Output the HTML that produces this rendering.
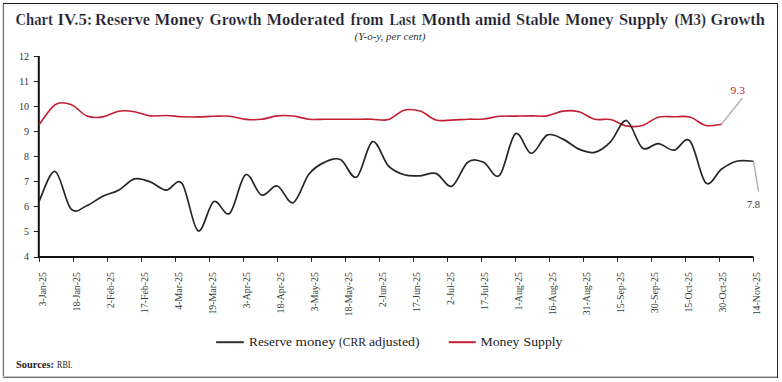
<!DOCTYPE html>
<html><head><meta charset="utf-8"><style>
html,body{margin:0;padding:0;background:#fff;}
body{width:782px;height:382px;overflow:hidden;font-family:"Liberation Serif",serif;}
svg{display:block;}
</style></head><body>
<svg width="782" height="382" viewBox="0 0 782 382">
<path d="M3,3.5H778" stroke="#1c1c1c" stroke-width="1"/>
<path d="M777.5,3V378" stroke="#262626" stroke-width="1"/>
<path d="M2.5,4V377" stroke="#dedede" stroke-width="1"/>
<path d="M3.5,4V378" stroke="#6e6e6e" stroke-width="1"/>
<path d="M3,376.5H777" stroke="#c4c4c4" stroke-width="1"/>
<path d="M3,377.5H777" stroke="#6e6e6e" stroke-width="1"/>
<text x="15.50" y="25.00" font-family="Liberation Serif" font-weight="bold" font-size="16.3" fill="#1c1c2c" stroke="#fff" stroke-width="0.2" textLength="37.50" lengthAdjust="spacingAndGlyphs">Chart</text>
<text x="57.50" y="25.00" font-family="Liberation Serif" font-weight="bold" font-size="16.3" fill="#1c1c2c" stroke="#fff" stroke-width="0.2" textLength="35.00" lengthAdjust="spacingAndGlyphs">IV.5:</text>
<text x="95.00" y="25.00" font-family="Liberation Serif" font-weight="bold" font-size="16.3" fill="#1c1c2c" stroke="#fff" stroke-width="0.2" textLength="55.00" lengthAdjust="spacingAndGlyphs">Reserve</text>
<text x="154.50" y="25.00" font-family="Liberation Serif" font-weight="bold" font-size="16.3" fill="#1c1c2c" stroke="#fff" stroke-width="0.2" textLength="49.50" lengthAdjust="spacingAndGlyphs">Money</text>
<text x="209.50" y="25.00" font-family="Liberation Serif" font-weight="bold" font-size="16.3" fill="#1c1c2c" stroke="#fff" stroke-width="0.2" textLength="52.00" lengthAdjust="spacingAndGlyphs">Growth</text>
<text x="266.50" y="25.00" font-family="Liberation Serif" font-weight="bold" font-size="16.3" fill="#1c1c2c" stroke="#fff" stroke-width="0.2" textLength="78.00" lengthAdjust="spacingAndGlyphs">Moderated</text>
<text x="350.50" y="25.00" font-family="Liberation Serif" font-weight="bold" font-size="16.3" fill="#1c1c2c" stroke="#fff" stroke-width="0.2" textLength="33.00" lengthAdjust="spacingAndGlyphs">from</text>
<text x="389.50" y="25.00" font-family="Liberation Serif" font-weight="bold" font-size="16.3" fill="#1c1c2c" stroke="#fff" stroke-width="0.2" textLength="26.50" lengthAdjust="spacingAndGlyphs">Last</text>
<text x="421.50" y="25.00" font-family="Liberation Serif" font-weight="bold" font-size="16.3" fill="#1c1c2c" stroke="#fff" stroke-width="0.2" textLength="49.00" lengthAdjust="spacingAndGlyphs">Month</text>
<text x="475.00" y="25.00" font-family="Liberation Serif" font-weight="bold" font-size="16.3" fill="#1c1c2c" stroke="#fff" stroke-width="0.2" textLength="35.50" lengthAdjust="spacingAndGlyphs">amid</text>
<text x="516.00" y="25.00" font-family="Liberation Serif" font-weight="bold" font-size="16.3" fill="#1c1c2c" stroke="#fff" stroke-width="0.2" textLength="43.50" lengthAdjust="spacingAndGlyphs">Stable</text>
<text x="565.00" y="25.00" font-family="Liberation Serif" font-weight="bold" font-size="16.3" fill="#1c1c2c" stroke="#fff" stroke-width="0.2" textLength="48.50" lengthAdjust="spacingAndGlyphs">Money</text>
<text x="619.00" y="25.00" font-family="Liberation Serif" font-weight="bold" font-size="16.3" fill="#1c1c2c" stroke="#fff" stroke-width="0.2" textLength="49.00" lengthAdjust="spacingAndGlyphs">Supply</text>
<text x="674.50" y="25.00" font-family="Liberation Serif" font-weight="bold" font-size="16.3" fill="#1c1c2c" stroke="#fff" stroke-width="0.2" textLength="31.50" lengthAdjust="spacingAndGlyphs">(M3)</text>
<text x="710.50" y="25.00" font-family="Liberation Serif" font-weight="bold" font-size="16.3" fill="#1c1c2c" stroke="#fff" stroke-width="0.2" textLength="54.50" lengthAdjust="spacingAndGlyphs">Growth</text>
<text x="354.50" y="40.00" font-family="Liberation Serif" font-style="italic" font-size="10.3" fill="#333" textLength="71.00" lengthAdjust="spacingAndGlyphs">(Y-o-y, per cent)</text>
<text x="249.00" y="346.00" font-family="Liberation Serif" font-size="13.1" fill="#222" textLength="43.00" lengthAdjust="spacingAndGlyphs">Reserve</text>
<text x="295.50" y="346.00" font-family="Liberation Serif" font-size="13.1" fill="#222" textLength="40.00" lengthAdjust="spacingAndGlyphs">money</text>
<text x="339.00" y="346.00" font-family="Liberation Serif" font-size="13.1" fill="#222" textLength="27.00" lengthAdjust="spacingAndGlyphs">(CRR</text>
<text x="369.00" y="346.00" font-family="Liberation Serif" font-size="13.1" fill="#222" textLength="50.50" lengthAdjust="spacingAndGlyphs">adjusted)</text>
<text x="480.50" y="346.00" font-family="Liberation Serif" font-size="13.1" fill="#222" textLength="39.00" lengthAdjust="spacingAndGlyphs">Money</text>
<text x="523.50" y="346.00" font-family="Liberation Serif" font-size="13.1" fill="#222" textLength="39.00" lengthAdjust="spacingAndGlyphs">Supply</text>
<text x="16.00" y="367.50" font-family="Liberation Serif" font-weight="bold" font-size="10.2" fill="#222" textLength="38.00" lengthAdjust="spacingAndGlyphs">Sources:</text>
<text x="57.00" y="367.50" font-family="Liberation Serif" font-size="10.2" fill="#222" textLength="15.50" lengthAdjust="spacingAndGlyphs">RBI.</text>
<text x="730.50" y="93.60" font-family="Liberation Serif" font-size="11" fill="#c8202f" textLength="14.50" lengthAdjust="spacingAndGlyphs">9.3</text>
<text x="747.00" y="207.90" font-family="Liberation Serif" font-size="11" fill="#333" textLength="13.00" lengthAdjust="spacingAndGlyphs">7.8</text>
<text x="29.0" y="260.40" text-anchor="end" font-family="Liberation Serif" font-size="10" fill="#333">4</text>
<text x="29.0" y="235.34" text-anchor="end" font-family="Liberation Serif" font-size="10" fill="#333">5</text>
<text x="29.0" y="210.28" text-anchor="end" font-family="Liberation Serif" font-size="10" fill="#333">6</text>
<text x="29.0" y="185.22" text-anchor="end" font-family="Liberation Serif" font-size="10" fill="#333">7</text>
<text x="29.0" y="160.16" text-anchor="end" font-family="Liberation Serif" font-size="10" fill="#333">8</text>
<text x="29.0" y="135.10" text-anchor="end" font-family="Liberation Serif" font-size="10" fill="#333">9</text>
<text x="29.0" y="110.04" text-anchor="end" font-family="Liberation Serif" font-size="10" fill="#333">10</text>
<text x="29.0" y="84.98" text-anchor="end" font-family="Liberation Serif" font-size="10" fill="#333">11</text>
<text x="29.0" y="59.92" text-anchor="end" font-family="Liberation Serif" font-size="10" fill="#333">12</text>
<path d="M33.8,257.50H38.8 M33.8,231.50H38.8 M33.8,206.50H38.8 M33.8,181.50H38.8 M33.8,156.50H38.8 M33.8,131.50H38.8 M33.8,106.50H38.8 M33.8,81.50H38.8 M33.8,56.50H38.8 M39.50,257V261.8 M73.50,257V261.8 M107.50,257V261.8 M141.50,257V261.8 M175.50,257V261.8 M209.50,257V261.8 M243.50,257V261.8 M277.50,257V261.8 M311.50,257V261.8 M345.50,257V261.8 M379.50,257V261.8 M413.50,257V261.8 M447.50,257V261.8 M481.50,257V261.8 M515.50,257V261.8 M549.50,257V261.8 M583.50,257V261.8 M617.50,257V261.8 M651.50,257V261.8 M685.50,257V261.8 M719.50,257V261.8 M753.50,257V261.8" stroke="#222" stroke-width="1" fill="none"/>
<path d="M38.8,56V257H753.4" stroke="#111" stroke-width="2" fill="none"/>
<text transform="translate(45.70,272.1) rotate(-90) scale(0.94,1)" text-anchor="end" font-family="Liberation Serif" font-size="10.5" fill="#3a3a3a">3-Jan-25</text>
<text transform="translate(79.71,272.1) rotate(-90) scale(0.94,1)" text-anchor="end" font-family="Liberation Serif" font-size="10.5" fill="#3a3a3a">18-Jan-25</text>
<text transform="translate(113.72,272.1) rotate(-90) scale(0.94,1)" text-anchor="end" font-family="Liberation Serif" font-size="10.5" fill="#3a3a3a">2-Feb-25</text>
<text transform="translate(147.73,272.1) rotate(-90) scale(0.94,1)" text-anchor="end" font-family="Liberation Serif" font-size="10.5" fill="#3a3a3a">17-Feb-25</text>
<text transform="translate(181.74,272.1) rotate(-90) scale(0.94,1)" text-anchor="end" font-family="Liberation Serif" font-size="10.5" fill="#3a3a3a">4-Mar-25</text>
<text transform="translate(215.75,272.1) rotate(-90) scale(0.94,1)" text-anchor="end" font-family="Liberation Serif" font-size="10.5" fill="#3a3a3a">19-Mar-25</text>
<text transform="translate(249.76,272.1) rotate(-90) scale(0.94,1)" text-anchor="end" font-family="Liberation Serif" font-size="10.5" fill="#3a3a3a">3-Apr-25</text>
<text transform="translate(283.77,272.1) rotate(-90) scale(0.94,1)" text-anchor="end" font-family="Liberation Serif" font-size="10.5" fill="#3a3a3a">18-Apr-25</text>
<text transform="translate(317.78,272.1) rotate(-90) scale(0.94,1)" text-anchor="end" font-family="Liberation Serif" font-size="10.5" fill="#3a3a3a">3-May-25</text>
<text transform="translate(351.79,272.1) rotate(-90) scale(0.94,1)" text-anchor="end" font-family="Liberation Serif" font-size="10.5" fill="#3a3a3a">18-May-25</text>
<text transform="translate(385.80,272.1) rotate(-90) scale(0.94,1)" text-anchor="end" font-family="Liberation Serif" font-size="10.5" fill="#3a3a3a">2-Jun-25</text>
<text transform="translate(419.80,272.1) rotate(-90) scale(0.94,1)" text-anchor="end" font-family="Liberation Serif" font-size="10.5" fill="#3a3a3a">17-Jun-25</text>
<text transform="translate(453.81,272.1) rotate(-90) scale(0.94,1)" text-anchor="end" font-family="Liberation Serif" font-size="10.5" fill="#3a3a3a">2-Jul-25</text>
<text transform="translate(487.82,272.1) rotate(-90) scale(0.94,1)" text-anchor="end" font-family="Liberation Serif" font-size="10.5" fill="#3a3a3a">17-Jul-25</text>
<text transform="translate(521.83,272.1) rotate(-90) scale(0.94,1)" text-anchor="end" font-family="Liberation Serif" font-size="10.5" fill="#3a3a3a">1-Aug-25</text>
<text transform="translate(555.84,272.1) rotate(-90) scale(0.94,1)" text-anchor="end" font-family="Liberation Serif" font-size="10.5" fill="#3a3a3a">16-Aug-25</text>
<text transform="translate(589.85,272.1) rotate(-90) scale(0.94,1)" text-anchor="end" font-family="Liberation Serif" font-size="10.5" fill="#3a3a3a">31-Aug-25</text>
<text transform="translate(623.86,272.1) rotate(-90) scale(0.94,1)" text-anchor="end" font-family="Liberation Serif" font-size="10.5" fill="#3a3a3a">15-Sep-25</text>
<text transform="translate(657.87,272.1) rotate(-90) scale(0.94,1)" text-anchor="end" font-family="Liberation Serif" font-size="10.5" fill="#3a3a3a">30-Sep-25</text>
<text transform="translate(691.88,272.1) rotate(-90) scale(0.94,1)" text-anchor="end" font-family="Liberation Serif" font-size="10.5" fill="#3a3a3a">15-Oct-25</text>
<text transform="translate(725.89,272.1) rotate(-90) scale(0.94,1)" text-anchor="end" font-family="Liberation Serif" font-size="10.5" fill="#3a3a3a">30-Oct-25</text>
<text transform="translate(759.90,272.1) rotate(-90) scale(0.94,1)" text-anchor="end" font-family="Liberation Serif" font-size="10.5" fill="#3a3a3a">14-Nov-25</text>
<path d="M39.20,124.60 C41.85,121.28 49.78,108.05 55.07,104.70 C60.36,101.35 65.65,102.63 70.94,104.50 C76.23,106.37 81.52,113.83 86.81,115.90 C92.10,117.97 97.39,117.68 102.68,116.90 C107.97,116.12 113.27,112.07 118.56,111.20 C123.85,110.33 129.14,110.92 134.43,111.70 C139.72,112.48 145.01,115.27 150.30,115.90 C155.59,116.53 160.88,115.35 166.17,115.50 C171.46,115.65 176.75,116.57 182.04,116.80 C187.33,117.03 192.62,116.98 197.91,116.90 C203.20,116.82 208.49,116.42 213.78,116.30 C219.07,116.18 224.36,115.68 229.65,116.20 C234.94,116.72 240.23,118.88 245.52,119.40 C250.81,119.92 256.11,119.88 261.40,119.30 C266.69,118.72 271.98,116.45 277.27,115.90 C282.56,115.35 287.85,115.43 293.14,116.00 C298.43,116.57 303.72,118.75 309.01,119.30 C314.30,119.85 319.59,119.32 324.88,119.30 C330.17,119.28 335.46,119.22 340.75,119.20 C346.04,119.18 351.33,119.20 356.62,119.20 C361.91,119.20 367.20,119.13 372.49,119.20 C377.78,119.27 383.07,121.10 388.36,119.60 C393.65,118.10 398.95,111.62 404.24,110.20 C409.53,108.78 414.82,109.47 420.11,111.10 C425.40,112.73 430.69,118.50 435.98,120.00 C441.27,121.50 446.56,120.23 451.85,120.10 C457.14,119.97 462.43,119.38 467.72,119.20 C473.01,119.02 478.30,119.48 483.59,119.00 C488.88,118.52 494.17,116.78 499.46,116.30 C504.75,115.82 510.04,116.17 515.33,116.10 C520.62,116.03 525.91,115.93 531.20,115.90 C536.49,115.87 541.79,116.70 547.08,115.90 C552.37,115.10 557.66,111.80 562.95,111.10 C568.24,110.40 573.53,110.35 578.82,111.70 C584.11,113.05 589.40,117.90 594.69,119.20 C599.98,120.50 605.27,118.38 610.56,119.50 C615.85,120.62 621.14,124.88 626.43,125.90 C631.72,126.92 637.01,127.05 642.30,125.60 C647.59,124.15 652.88,118.67 658.17,117.20 C663.46,115.73 668.75,116.82 674.04,116.80 C679.33,116.78 684.63,115.65 689.92,117.10 C695.21,118.55 700.50,124.32 705.79,125.50 C711.08,126.68 719.01,124.42 721.66,124.20" stroke="#c41f33" stroke-width="1.6" fill="none"/>
<path d="M39.20,201.00 C41.85,196.08 49.78,170.18 55.07,171.50 C60.36,172.82 65.65,203.20 70.94,208.90 C76.23,214.60 81.52,207.82 86.81,205.70 C92.10,203.58 97.39,198.78 102.68,196.20 C107.97,193.62 113.27,193.08 118.56,190.20 C123.85,187.32 129.14,180.28 134.43,178.90 C139.72,177.52 145.01,180.02 150.30,181.90 C155.59,183.78 160.88,189.95 166.17,190.20 C171.46,190.45 176.75,176.65 182.04,183.40 C187.33,190.15 192.62,227.67 197.91,230.70 C203.20,233.73 208.49,204.50 213.78,201.60 C219.07,198.70 224.36,217.77 229.65,213.30 C234.94,208.83 240.23,177.85 245.52,174.80 C250.81,171.75 256.11,193.13 261.40,195.00 C266.69,196.87 271.98,184.72 277.27,186.00 C282.56,187.28 287.85,204.68 293.14,202.70 C298.43,200.72 303.72,180.87 309.01,174.10 C314.30,167.33 319.59,164.48 324.88,162.10 C330.17,159.72 335.46,157.30 340.75,159.80 C346.04,162.30 351.33,180.13 356.62,177.10 C361.91,174.07 367.20,143.47 372.49,141.60 C377.78,139.73 383.07,160.37 388.36,165.90 C393.65,171.43 398.95,173.15 404.24,174.80 C409.53,176.45 414.82,176.03 420.11,175.80 C425.40,175.57 430.69,171.65 435.98,173.40 C441.27,175.15 446.56,188.15 451.85,186.30 C457.14,184.45 462.43,166.30 467.72,162.30 C473.01,158.30 478.30,160.12 483.59,162.30 C488.88,164.48 494.17,180.17 499.46,175.40 C504.75,170.63 510.04,137.37 515.33,133.70 C520.62,130.03 525.91,153.17 531.20,153.40 C536.49,153.63 541.79,137.48 547.08,135.10 C552.37,132.72 557.66,136.77 562.95,139.10 C568.24,141.43 573.53,146.90 578.82,149.10 C584.11,151.30 589.40,153.52 594.69,152.30 C599.98,151.08 605.27,147.10 610.56,141.80 C615.85,136.50 621.14,119.47 626.43,120.50 C631.72,121.53 637.01,144.15 642.30,148.00 C647.59,151.85 652.88,143.23 658.17,143.60 C663.46,143.97 668.75,150.67 674.04,150.20 C679.33,149.73 684.63,135.35 689.92,140.80 C695.21,146.25 700.50,178.20 705.79,182.90 C711.08,187.60 716.37,172.65 721.66,169.00 C726.95,165.35 732.24,162.28 737.53,161.00 C742.82,159.72 750.75,161.25 753.40,161.30" stroke="#262626" stroke-width="1.7" fill="none"/>
<path d="M721.5,124.2L742.3,98.3" stroke="#b4b4b4" stroke-width="1.5" fill="none"/>
<path d="M753.5,161.3L758.6,191.6" stroke="#b4b4b4" stroke-width="1.5" fill="none"/>
<path d="M216.1,342.2H243.8" stroke="#303030" stroke-width="2"/>
<path d="M448.8,342.2H475.8" stroke="#c41f33" stroke-width="2"/>
</svg>
</body></html>
